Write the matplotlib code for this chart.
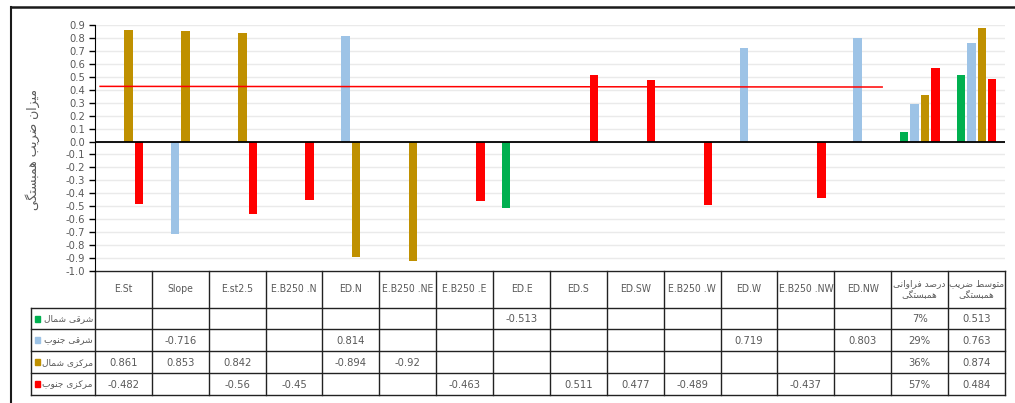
import numpy as np
import matplotlib
matplotlib.use("Agg")
import matplotlib.pyplot as plt
from matplotlib.patches import Rectangle
from matplotlib import font_manager as fm

# ---- data ----
categories = ["E.St", "Slope", "E.st2.5", "E.B250 .N", "ED.N", "E.B250 .NE", "E.B250 .E",
              "ED.E", "ED.S", "ED.SW", "E.B250 .W", "ED.W", "E.B250 .NW", "ED.NW"]
series_names = ["شرقی شمال", "شرقی جنوب", "مرکزی شمال", "مرکزی جنوب"]
green = [None, None, None, None, None, None, None, -0.513, None, None, None, None, None, None]
blue = [None, -0.716, None, None, 0.814, None, None, None, None, None, None, 0.719, None, 0.803]
gold = [0.861, 0.853, 0.842, None, -0.894, -0.92, None, None, None, None, None, None, None, None]
red = [-0.482, None, -0.56, -0.45, None, None, -0.463, None, 0.511, 0.477, -0.489, None, -0.437, None]
freq = [0.07, 0.29, 0.36, 0.57]       # درصد فراوانی همبستگی
mean_corr = [0.513, 0.763, 0.874, 0.484]  # متوسط ضریب همبستگی
extra_cols = ["درصد فراوانی\nهمبستگی", "متوسط ضریب\nهمبستگی"]
ref_line = [0.426, 0.421]
ylabel = "میزان ضریب همبستگی"

colors = ["#00B050", "#9DC3E6", "#BF9000", "#FF0000"]

# ---- minimal arabic/persian shaping (matplotlib has no bidi) ----
FORMS = {
    "ا": ("\uFE8D", "\uFE8E", None, None), "د": ("\uFEA9", "\uFEAA", None, None),
    "ر": ("\uFEAD", "\uFEAE", None, None), "ز": ("\uFEAF", "\uFEB0", None, None),
    "و": ("\uFEED", "\uFEEE", None, None),
    "ب": ("\uFE8F", "\uFE90", "\uFE91", "\uFE92"), "ت": ("\uFE95", "\uFE96", "\uFE97", "\uFE98"),
    "ج": ("\uFE9D", "\uFE9E", "\uFE9F", "\uFEA0"), "س": ("\uFEB1", "\uFEB2", "\uFEB3", "\uFEB4"),
    "ش": ("\uFEB5", "\uFEB6", "\uFEB7", "\uFEB8"), "ص": ("\uFEB9", "\uFEBA", "\uFEBB", "\uFEBC"),
    "ض": ("\uFEBD", "\uFEBE", "\uFEBF", "\uFEC0"), "ط": ("\uFEC1", "\uFEC2", "\uFEC3", "\uFEC4"),
    "ف": ("\uFED1", "\uFED2", "\uFED3", "\uFED4"), "ق": ("\uFED5", "\uFED6", "\uFED7", "\uFED8"),
    "ل": ("\uFEDD", "\uFEDE", "\uFEDF", "\uFEE0"), "م": ("\uFEE1", "\uFEE2", "\uFEE3", "\uFEE4"),
    "ن": ("\uFEE5", "\uFEE6", "\uFEE7", "\uFEE8"), "ه": ("\uFEE9", "\uFEEA", "\uFEEB", "\uFEEC"),
    "ی": ("\uFBFC", "\uFBFD", "\uFBFE", "\uFBFF"), "ک": ("\uFB8E", "\uFB8F", "\uFB90", "\uFB91"),
    "گ": ("\uFB92", "\uFB93", "\uFB94", "\uFB95"),
}

def shape_line(s):
    out = []
    for i, ch in enumerate(s):
        if ch not in FORMS:
            out.append(ch); continue
        prev = s[i - 1] if i > 0 else ""
        nxt = s[i + 1] if i + 1 < len(s) else ""
        jp = prev in FORMS and FORMS[prev][2] is not None
        jn = FORMS[ch][2] is not None and nxt in FORMS
        f = FORMS[ch]
        out.append(f[3] if jp and jn else f[1] if jp else f[2] if jn else f[0])
    return "".join(out)[::-1]

def fa(s):
    return "\n".join(shape_line(l) for l in s.split("\n"))

AR = ["DejaVu Sans"]
GRAY = "#595959"

def lat(size):
    return fm.FontProperties(family="DejaVu Sans", stretch="condensed", size=size)

W, H = 1015, 403
fig = plt.figure(figsize=(W / 100, H / 100), dpi=100)

# overlay in pixel coords for table and border
ov = fig.add_axes([0, 0, 1, 1])
ov.set_xlim(0, W); ov.set_ylim(H, 0); ov.axis("off")

x0, x1 = 95, 1005
ncol = len(categories) + 2
colw = (x1 - x0) / ncol
y_top, y_plot = 25, 271

ax = fig.add_axes([x0 / W, 1 - y_plot / H, (x1 - x0) / W, (y_plot - y_top) / H])
ax.set_xlim(-0.5, ncol - 0.5)
ax.set_ylim(-1.0, 0.9)
yt = np.round(np.arange(-1.0, 0.91, 0.1), 1)
ax.set_yticks(yt)
ax.set_yticklabels([f"{abs(v):.1f}" if abs(v) < 1e-9 else f"{v:.1f}" for v in yt],
                   fontproperties=lat(8), color=GRAY)
ax.tick_params(axis="y", direction="out", length=4, width=1, pad=3, color="black")
ax.set_xticks([])
for s in ["top", "right", "bottom"]:
    ax.spines[s].set_visible(False)
ax.spines["left"].set_color("black")
ax.grid(axis="y", color="#EAEAEA", lw=1)
ax.set_axisbelow(True)
ax.patch.set_alpha(0)

bw, step = 0.15, 0.183
offs = [-1.5 * step, -0.5 * step, 0.5 * step, 1.5 * step]
for k, vals in enumerate([green, blue, gold, red]):
    xs = [i + offs[k] for i, v in enumerate(vals) if v is not None]
    ys = [v for v in vals if v is not None]
    ax.bar(xs, ys, width=bw, color=colors[k], zorder=3)
    ax.bar([len(categories) + offs[k], len(categories) + 1 + offs[k]],
           [freq[k], mean_corr[k]], width=bw, color=colors[k], zorder=3)
ax.axhline(0, color="black", lw=1.3, zorder=4)
ax.plot([-0.41, 13.34], ref_line, color="#FF0000", lw=1.1, zorder=5)

fig.text(33 / W, 1 - 149 / H, fa(ylabel), rotation=90, ha="center", va="center",
         fontsize=9, color=GRAY, family=AR)

# ---- table ----
rows = [271, 307.7, 329.3, 351, 373.3, 395]
lc = "#222222"
ov.plot([x0, x1], [rows[0], rows[0]], color=lc, lw=1)
for r in rows[1:]:
    ov.plot([31, x1], [r, r], color=lc, lw=1)
ov.plot([31, 31], [rows[1], rows[-1]], color=lc, lw=1)
for j in range(ncol + 1):
    ov.plot([x0 + j * colw] * 2, [rows[0], rows[-1]], color=lc, lw=1)

headers = categories + extra_cols
for j, h in enumerate(headers):
    cx = x0 + (j + 0.5) * colw
    cy = (rows[0] + rows[1]) / 2
    if j < len(categories):
        ov.text(cx, cy, h, ha="center", va="center", fontproperties=lat(7.5), color=GRAY)
    else:
        ov.text(cx, cy, fa(h), ha="center", va="center", fontsize=6.5, color=GRAY,
                family=AR, linespacing=1.3)

for k, vals in enumerate([green, blue, gold, red]):
    cy = (rows[k + 1] + rows[k + 2]) / 2
    ov.add_patch(Rectangle((35, cy - 3), 5, 6, color=colors[k]))
    ov.text(93, cy, fa(series_names[k]), ha="right", va="center", fontsize=6.5,
            color=GRAY, family=AR)
    cells = [f"{v:g}" if v is not None else "" for v in vals]
    cells += [f"{round(freq[k] * 100)}%", f"{mean_corr[k]:g}"]
    for j, c in enumerate(cells):
        if c:
            ov.text(x0 + (j + 0.5) * colw, cy + 0.5, c, ha="center", va="center",
                    fontproperties=lat(8), color=GRAY)

# chart border (cropped on right/bottom)
ov.plot([11, 11], [7, H], color="#1a1a1a", lw=1.5)
ov.plot([11, W], [7, 7], color="#1a1a1a", lw=1.8)

fig.savefig("out.png", dpi=100)
